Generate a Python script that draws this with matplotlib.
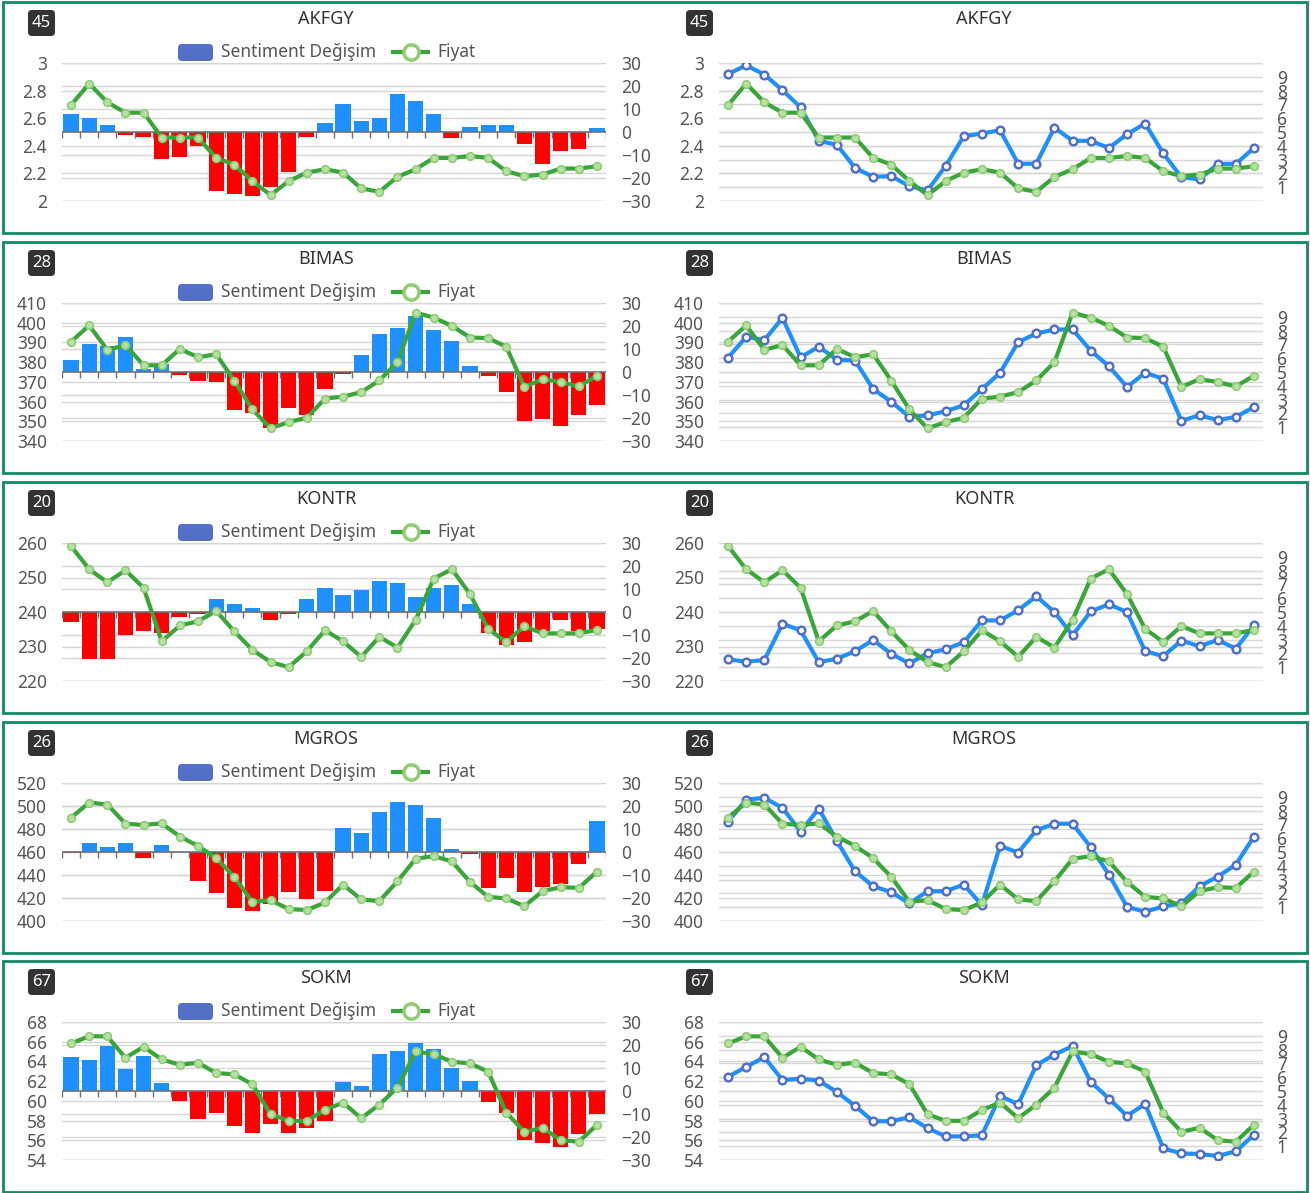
import numpy as np
import matplotlib.pyplot as plt
from matplotlib.patches import FancyBboxPatch, Rectangle

plt.rcParams['font.family'] = ['Noto Sans', 'DejaVu Sans']

# --- data ---
tickers = ['AKFGY', 'BIMAS', 'KONTR', 'MGROS', 'SOKM']
badges = ['45', '28', '20', '26', '67']
price_axes = [(2, 3, 0.2), (340, 410, 10), (220, 260, 10), (400, 520, 20), (54, 68, 2)]

akfgy_fiyat = [2.695, 2.851, 2.715, 2.640, 2.640, 2.460, 2.460, 2.460, 2.312, 2.264,
               2.144, 2.043, 2.144, 2.206, 2.230, 2.206, 2.091, 2.067, 2.175, 2.230,
               2.312, 2.312, 2.326, 2.312, 2.216, 2.180, 2.192, 2.235, 2.235, 2.252]
akfgy_degisim = [7.7, 6.0, 3.0, -1.3, -2.0, -11.8, -11.0, -6.3, -25.6, -27.0,
                 -27.9, -24.0, -17.6, -2.0, 4.0, 12.0, 5.0, 6.0, 16.4, 13.4,
                 7.7, -2.8, 2.1, 3.0, 3.0, -5.1, -13.9, -8.4, -7.3, 1.6]
akfgy_skor = [9.20, 9.83, 9.16, 8.03, 6.79, 4.36, 4.08, 2.40, 1.75, 1.80,
              1.08, 0.77, 2.54, 4.70, 4.89, 5.13, 2.69, 2.71, 5.32, 4.36,
              4.36, 3.84, 4.84, 5.61, 3.45, 1.73, 1.56, 2.69, 2.69, 3.84]

bimas_fiyat = [390.4, 398.6, 386.2, 388.7, 378.4, 378.4, 386.7, 382.5, 384.0, 370.6,
               356.0, 346.4, 349.6, 351.8, 361.5, 362.5, 364.8, 370.7, 380.0, 405.1,
               402.6, 398.4, 392.5, 392.2, 387.8, 367.4, 371.4, 369.9, 367.7, 373.1]
bimas_degisim = [5.2, 12.2, 11.5, 15.3, 1.4, 3.3, -1.4, -3.7, -4.5, -16.5,
                 -17.7, -24.5, -15.5, -18.6, -7.6, -0.7, 7.3, 16.4, 19.3, 24.3,
                 18.4, 13.4, 2.4, -1.6, -8.5, -21.4, -20.6, -23.5, -18.6, -14.5]
bimas_skor = [6.04, 7.55, 7.31, 8.92, 6.07, 6.83, 5.90, 5.83, 3.76, 2.85,
              1.75, 1.85, 2.16, 2.59, 3.76, 4.94, 7.17, 7.79, 8.08, 8.08,
              6.55, 5.42, 3.91, 4.94, 4.51, 1.46, 1.87, 1.51, 1.75, 2.45]

kontr_fiyat = [259.1, 252.4, 248.6, 252.1, 247.0, 231.5, 236.1, 237.3, 240.3, 234.4,
               229.0, 225.5, 224.0, 228.6, 234.7, 231.5, 227.0, 232.8, 229.7, 237.7,
               249.7, 252.4, 245.2, 235.1, 231.3, 235.9, 233.8, 233.8, 233.8, 234.8]
kontr_degisim = [-4.3, -20.4, -20.4, -10.2, -8.3, -9.2, -2.3, -0.7, 5.5, 3.6,
                 1.6, -3.3, -0.7, 5.5, 10.5, 7.5, 9.6, 13.5, 12.7, 6.6,
                 10.5, 11.7, 3.6, -9.2, -14.5, -13.2, -8.3, -3.3, -8.3, -7.3]
kontr_skor = [1.56, 1.41, 1.51, 4.15, 3.67, 1.37, 1.61, 2.16, 2.97, 1.97,
              1.27, 2.01, 2.30, 2.81, 4.39, 4.39, 5.13, 6.14, 4.99, 3.31,
              5.04, 5.56, 4.99, 2.16, 1.80, 2.93, 2.52, 2.97, 2.35, 4.03]

mgros_fiyat = [489.8, 503.0, 501.3, 484.6, 483.5, 484.9, 473.4, 465.3, 454.7, 438.3,
               416.7, 418.1, 410.4, 409.5, 416.1, 431.7, 418.7, 417.3, 434.5, 454.1,
               456.4, 451.8, 434.0, 421.0, 419.6, 412.9, 425.9, 429.4, 428.8, 442.9]
mgros_degisim = [-0.3, 3.9, 2.0, 3.9, -2.7, 3.0, 0.0, -12.8, -17.8, -24.3,
                 -25.8, -22.6, -17.4, -20.6, -17.1, 10.4, 8.1, 17.4, 21.6, 20.4,
                 15.0, 1.4, -1.0, -15.7, -11.1, -17.4, -15.0, -13.8, -5.3, 13.5]
mgros_skor = [7.19, 8.80, 8.92, 8.20, 6.47, 8.15, 5.80, 3.60, 2.52, 2.09,
              1.27, 2.16, 2.16, 2.64, 1.15, 5.44, 4.96, 6.57, 7.05, 7.05,
              5.35, 3.36, 1.03, 0.67, 1.06, 1.27, 2.52, 3.21, 4.08, 6.12]

sokm_fiyat = [65.82, 66.56, 66.53, 64.37, 65.48, 64.20, 63.66, 63.87, 62.82, 62.69,
              61.68, 58.65, 57.97, 57.97, 59.08, 59.82, 58.24, 59.62, 61.34, 65.01,
              64.74, 63.97, 63.80, 62.96, 58.81, 56.86, 57.27, 56.02, 55.85, 57.57]
sokm_degisim = [15.0, 13.3, 19.5, 9.4, 15.4, 3.5, -4.2, -12.0, -9.7, -15.4,
                -18.3, -14.4, -18.3, -16.0, -13.1, 3.8, 2.2, 16.3, 17.5, 20.9,
                18.3, 9.8, 4.2, -4.9, -9.5, -21.4, -22.4, -24.4, -18.8, -10.1]
sokm_skor = [6.03, 6.75, 7.45, 5.79, 5.89, 5.75, 4.93, 3.92, 2.81, 2.81,
             3.10, 2.31, 1.71, 1.71, 1.80, 4.64, 4.04, 6.88, 7.64, 8.25,
             5.67, 4.45, 3.20, 4.06, 0.84, 0.48, 0.43, 0.29, 0.63, 1.83]

fiyat_all = [akfgy_fiyat, bimas_fiyat, kontr_fiyat, mgros_fiyat, sokm_fiyat]
degisim_all = [akfgy_degisim, bimas_degisim, kontr_degisim, mgros_degisim, sokm_degisim]
skor_all = [akfgy_skor, bimas_skor, kontr_skor, mgros_skor, sokm_skor]

# --- styling ---
W, H = 1310, 1193
BLUE = '#1e90ff'
RED = '#ff0000'
GREEN = '#3aa53a'
LGREEN = '#91cc75'
MARK = '#5470c6'
GRID = '#d6d6d6'
AXIS = '#6e7079'
LABEL = '#555555'
FS = 12.5

fig = plt.figure(figsize=(W / 100, H / 100), dpi=100)


def frac(x0, y0, x1, y1):
    return [x0 / W, 1 - y1 / H, (x1 - x0) / W, (y1 - y0) / H]


def inch_box(x0, y0, x1, y1, **kw):
    # patch placed in pixel coords (top-left origin), drawn in inches
    return FancyBboxPatch((x0 / 100, (H - y1) / 100), (x1 - x0) / 100, (y1 - y0) / 100,
                          transform=fig.dpi_scale_trans, **kw)


def fmt(v):
    return f'{v:g}'


def grid_from(ax, lo, hi, step, vmin, vmax):
    # price ticks mapped onto the other axis, so every grid line stays below the marks
    for p in np.arange(lo, hi + step / 2, step):
        v = vmin + (p - lo) / (hi - lo) * (vmax - vmin)
        ax.axhline(v, color=GRID, lw=1, zorder=0)


def clean(ax):
    for s in ax.spines.values():
        s.set_visible(False)
    ax.set_xticks([])
    ax.tick_params(axis='y', length=0, labelsize=FS, labelcolor=LABEL)


x = np.arange(30)
row_dy = [0, 240, 480, 720, 959]

for i, name in enumerate(tickers):
    dy = row_dy[i]
    lo, hi, step = price_axes[i]
    pticks = np.arange(lo, hi + step / 2, step)
    plabels = [fmt(round(p, 2)) for p in pticks]
    fiyat = fiyat_all[i]
    degisim = degisim_all[i]
    skor = skor_all[i]

    # row frame
    fig.patches.append(Rectangle((3 / 100, (H - (dy + 233)) / 100), 1304 / 100, 231 / 100,
                                 transform=fig.dpi_scale_trans, fill=False,
                                 edgecolor='#138a64', lw=2))

    for bx0, cx in [(28, 326), (686, 984)]:
        fig.patches.append(inch_box(bx0, dy + 10, bx0 + 27, dy + 36,
                                    boxstyle='round,pad=0,rounding_size=0.04',
                                    facecolor='#333333', edgecolor='none'))
        fig.text((bx0 + 13.5) / W, 1 - (dy + 23) / H, badges[i], color='white',
                 fontsize=12, ha='center', va='center')
        fig.text(cx / W, 1 - (dy + 19) / H, name, color='#333333',
                 fontsize=13, ha='center', va='center')

    # legend of the left chart
    fig.patches.append(inch_box(178, dy + 44, 213, dy + 61,
                                boxstyle='round,pad=0,rounding_size=0.04',
                                facecolor=MARK, edgecolor='none'))
    fig.text(221 / W, 1 - (dy + 52) / H, 'Sentiment Değişim', color=LABEL,
             fontsize=FS, ha='left', va='center')
    fig.lines.append(plt.Line2D([393 / W, 428 / W], [1 - (dy + 52) / H] * 2,
                                transform=fig.transFigure, color=GREEN, lw=3))
    fig.lines.append(plt.Line2D([410.5 / W], [1 - (dy + 52) / H], transform=fig.transFigure,
                                marker='o', ms=11, mfc='white', mec=LGREEN, mew=2.5))
    fig.text(437 / W, 1 - (dy + 52) / H, 'Fiyat', color=LABEL,
             fontsize=FS, ha='left', va='center')

    # left chart: bars on the right axis, price on the left axis
    ax = fig.add_axes(frac(62, dy + 63, 606, dy + 201))
    ax2 = ax.twinx()
    colors = [BLUE if v >= 0 else RED for v in degisim]
    ax.bar(x, degisim, width=0.84, color=colors, zorder=2)
    ax.set_xlim(-0.5, 29.5)
    ax.set_ylim(-30, 30)
    for v in range(-30, 31, 10):
        if v != 0:
            ax.axhline(v, color=GRID, lw=1, zorder=0)
    grid_from(ax, lo, hi, step, -30, 30)
    ax.axhline(0, color=AXIS, lw=1.2, zorder=3)
    ax.vlines(np.arange(31) - 0.5, -2.6, 0, color=AXIS, lw=1, zorder=3)

    ax2.plot(x, fiyat, color=GREEN, lw=3, marker='o', ms=5.5,
             mfc='#b6e0a6', mec=LGREEN, mew=1.2, zorder=4)
    ax2.set_ylim(lo, hi)
    ax2.set_xlim(-0.5, 29.5)

    ax.yaxis.tick_right()
    ax.set_yticks(range(-30, 31, 10))
    ax2.yaxis.tick_left()
    ax2.set_yticks(pticks)
    ax2.set_yticklabels(plabels)
    for a in (ax, ax2):
        clean(a)
        a.tick_params(axis='y', pad=11)

    # right chart: sentiment score on the right axis, price on the left axis
    bx = fig.add_axes(frac(719, dy + 63, 1263, dy + 201))
    bx2 = bx.twinx()
    for v in range(0, 11):
        bx.axhline(v, color=GRID, lw=1, zorder=0)
    grid_from(bx, lo, hi, step, 0, 10)
    bx.plot(x, skor, color=BLUE, lw=3, marker='o', ms=5.5,
            mfc='white', mec=MARK, mew=1.8, zorder=3)
    bx.set_xlim(-0.5, 29.5)
    bx.set_ylim(0, 10)

    bx2.plot(x, fiyat, color=GREEN, lw=3, marker='o', ms=5.5,
             mfc='#b6e0a6', mec=LGREEN, mew=1.2, zorder=4)
    bx2.set_ylim(lo, hi)
    bx2.set_xlim(-0.5, 29.5)

    bx.yaxis.tick_right()
    bx.set_yticks(range(1, 10))
    bx2.yaxis.tick_left()
    bx2.set_yticks(pticks)
    bx2.set_yticklabels(plabels)
    for a in (bx, bx2):
        clean(a)
    bx.tick_params(axis='y', pad=10)
    bx2.tick_params(axis='y', pad=11)

fig.savefig('out.png', dpi=100, facecolor='white')
